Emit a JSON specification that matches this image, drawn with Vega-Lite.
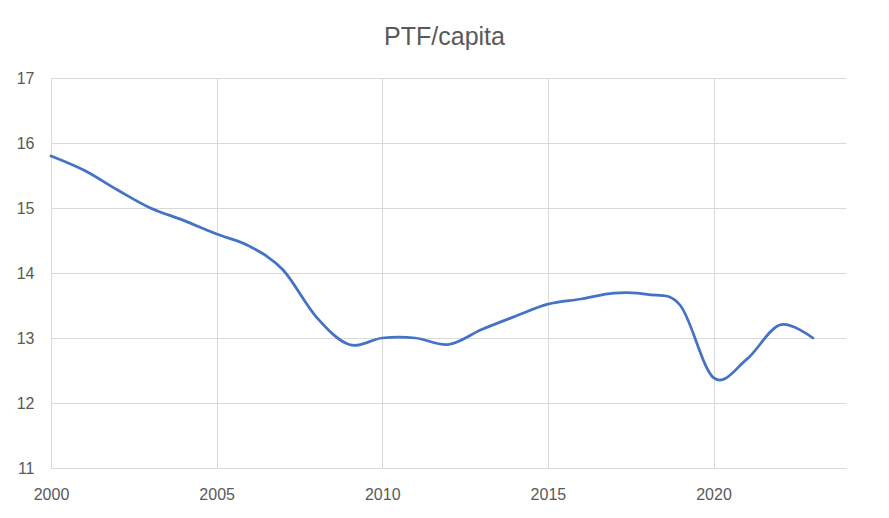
{
  "$schema": "https://vega.github.io/schema/vega-lite/v6.json",
  "width": 795,
  "height": 390,
  "autosize": {"type": "none"},
  "padding": {"left": 51, "top": 78, "right": 43, "bottom": 50},
  "background": "white",
  "title": {
    "text": "PTF/capita",
    "font": "Liberation Sans",
    "fontSize": 25,
    "fontWeight": "normal",
    "color": "#595959",
    "anchor": "middle",
    "frame": "group",
    "baseline": "alphabetic",
    "offset": 0,
    "dx": -4
  },
  "data": {
    "values": [
      {"year": 2000, "value": 15.8},
      {"year": 2001, "value": 15.58},
      {"year": 2002, "value": 15.28},
      {"year": 2003, "value": 15.0},
      {"year": 2004, "value": 14.81},
      {"year": 2005, "value": 14.6},
      {"year": 2006, "value": 14.41},
      {"year": 2007, "value": 14.05},
      {"year": 2008, "value": 13.33},
      {"year": 2009, "value": 12.9},
      {"year": 2010, "value": 13.0},
      {"year": 2011, "value": 13.0},
      {"year": 2012, "value": 12.9},
      {"year": 2013, "value": 13.13},
      {"year": 2014, "value": 13.33},
      {"year": 2015, "value": 13.52},
      {"year": 2016, "value": 13.6},
      {"year": 2017, "value": 13.69},
      {"year": 2018, "value": 13.67},
      {"year": 2019, "value": 13.5},
      {"year": 2020, "value": 12.39},
      {"year": 2021, "value": 12.67},
      {"year": 2022, "value": 13.2},
      {"year": 2023, "value": 13.0}
    ]
  },
  "mark": {
    "type": "line",
    "interpolate": "cardinal",
    "color": "#4472C4",
    "strokeWidth": 2.75,
    "strokeCap": "round"
  },
  "encoding": {
    "x": {
      "field": "year",
      "type": "quantitative",
      "scale": {"domain": [2000, 2024], "nice": false, "zero": false},
      "axis": {
        "title": null,
        "values": [2000, 2005, 2010, 2015, 2020],
        "format": "d",
        "grid": true,
        "gridColor": "#d9d9d9",
        "domainColor": "#d9d9d9",
        "domainWidth": 1,
        "ticks": false,
        "labelFlush": false,
        "labelPadding": 18,
        "labelFont": "Liberation Sans",
        "labelFontSize": 16,
        "labelColor": "#595959"
      }
    },
    "y": {
      "field": "value",
      "type": "quantitative",
      "scale": {"domain": [11, 17], "nice": false, "zero": false},
      "axis": {
        "title": null,
        "values": [11, 12, 13, 14, 15, 16, 17],
        "grid": true,
        "gridColor": "#d9d9d9",
        "domain": false,
        "ticks": false,
        "labelFlush": false,
        "labelPadding": 17,
        "labelFont": "Liberation Sans",
        "labelFontSize": 16,
        "labelColor": "#595959"
      }
    }
  },
  "config": {
    "view": {"stroke": null}
  }
}
